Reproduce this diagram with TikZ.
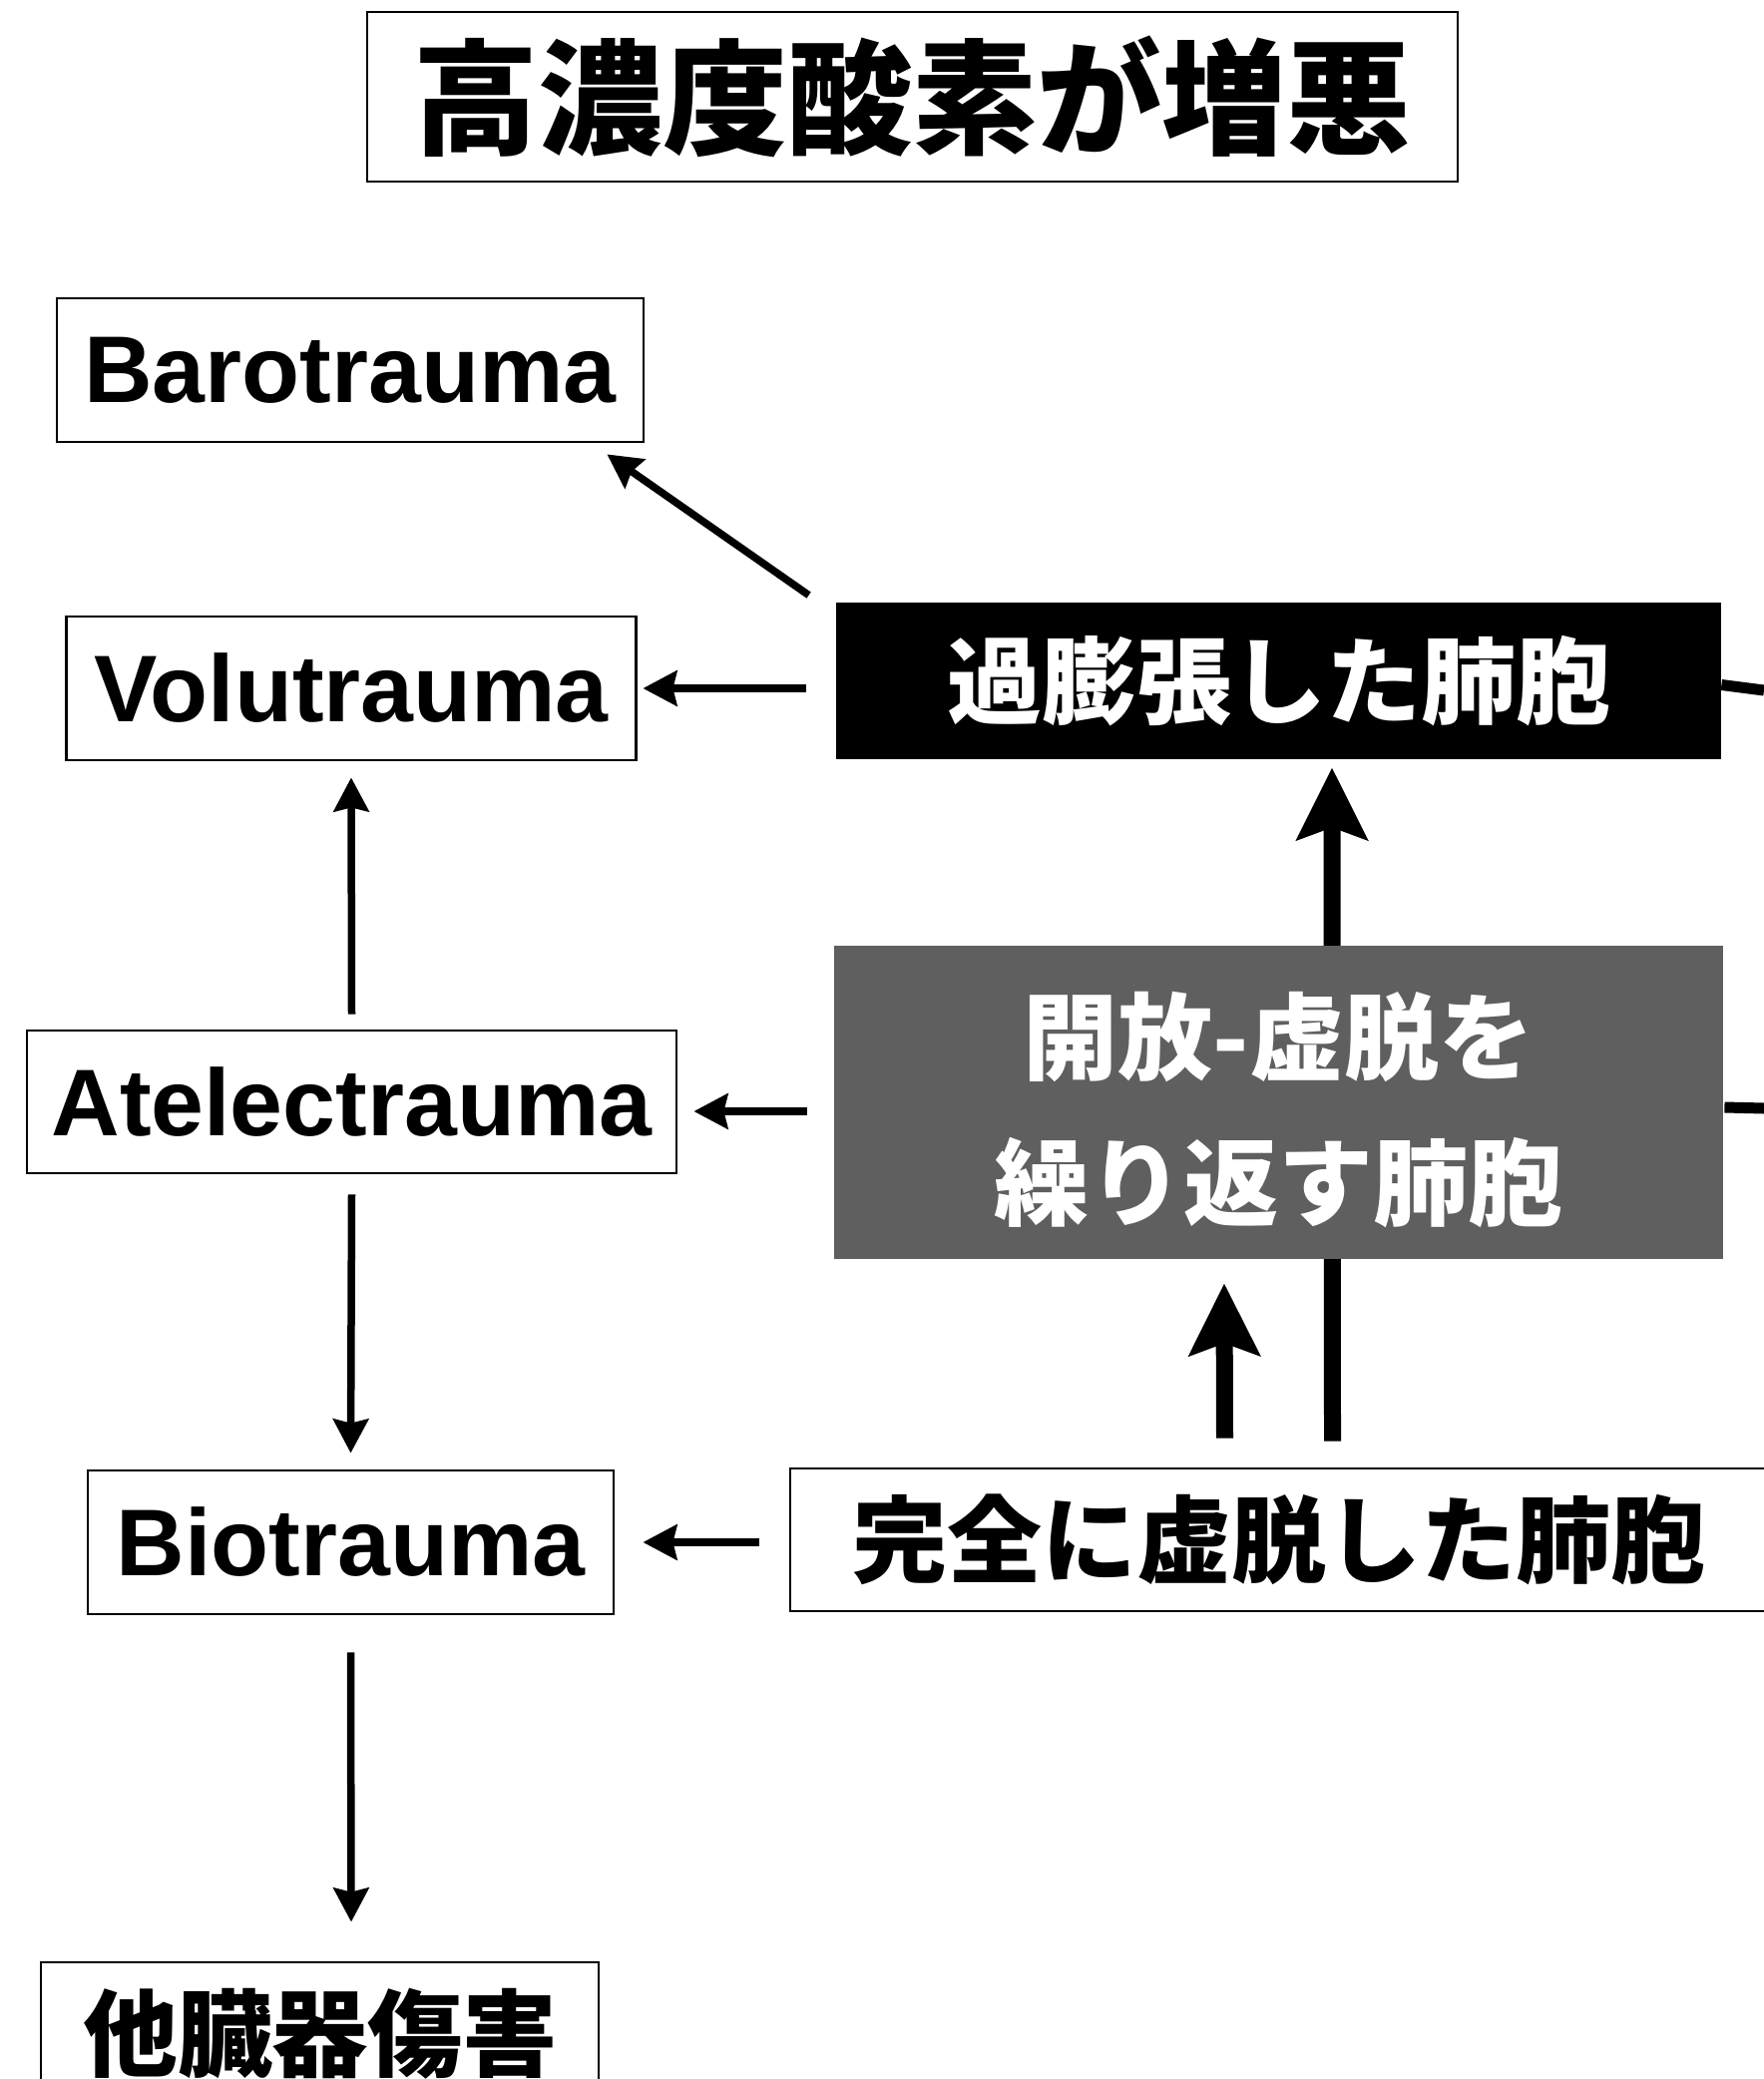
\documentclass[tikz,border=0pt]{standalone}
\usepackage{fontspec}
\setmainfont{Liberation Sans}
\newfontfamily\jpfont{Noto Sans CJK JP}
\usetikzlibrary{arrows.meta,backgrounds}
\definecolor{midgray}{HTML}{5F5F5F}
\tikzset{
  box/.style={draw=black,line width=2.8pt,inner sep=0pt,align=center,font=\fontsize{95}{146}\selectfont\bfseries},
  jpbox/.style={box,font=\fontsize{95}{146}\selectfont\jpfont\bfseries},
  thinarrow/.style={line width=7.5pt,-{Stealth[length=34pt,width=35pt,inset=4pt]}},
  thickarrow/.style={line width=17pt,-{Stealth[length=72pt,width=70pt,inset=12pt]}},
  thickline/.style={line width=11pt},
}
\begin{document}
\begin{tikzpicture}[x=1pt,y=-1pt]
\clip (0,0) rectangle (1768,2084);

\node[jpbox,minimum width=1093pt,minimum height=170pt,font=\fontsize{125}{140}\selectfont\jpfont\bfseries] (title) at (914.5,97) {高濃度酸素が増悪};

\node[box,minimum width=588pt,minimum height=144pt] (baro) at (351,371) {Barotrauma};
\node[box,minimum width=571pt,minimum height=144pt] (volu) at (352,690) {Volutrauma};
\node[box,minimum width=651pt,minimum height=143pt] (atel) at (352.5,1104.5) {Atelectrauma};
\node[box,minimum width=527pt,minimum height=144pt] (bio) at (351.5,1546) {Biotrauma};
\node[jpbox,minimum width=559pt,minimum height=144pt] (organ) at (320.5,2039) {他臓器傷害};

\node[jpbox,fill=black,text=white,minimum width=885pt,minimum height=155pt] (over) at (1281.5,682.5) {過膨張した肺胞};
\node[jpbox,draw=none,fill=midgray,minimum width=891pt,minimum height=314pt] (rep) at (1281.5,1105) {};
\node[jpbox,draw=none,text=white] (reptext) at ([shift={(0,8)}]rep.center) {開放-虚脱を\\繰り返す肺胞};
\node[jpbox,minimum width=980pt,minimum height=143pt] (coll) at (1282,1543.5) {完全に虚脱した肺胞};

\coordinate (overout) at (1768,692);
\coordinate (repout) at (1768,1111);

\begin{scope}[on background layer]
  \fill[white] (0,0) rectangle (1768,2084);
  \draw[thickarrow] ([shift={(53.5,-26)}]coll.north) -- ([shift={(53.5,8)}]over.south);
\end{scope}
\draw[thickarrow] ([shift={(-54.5,-29)}]coll.north) -- ([shift={(-54.5,23)}]rep.south);

\draw[thickline] ([shift={(0,4)}]over.east) -- (overout);
\draw[thickline] ([shift={(0,5)}]rep.east) -- (repout);

\draw[thinarrow] ([shift={(-27,-7)}]over.north west) -- ([shift={(-38,11)}]baro.south east);
\draw[thinarrow] ([shift={(-30,7.5)}]over.west) -- ([shift={(5.5,0)}]volu.east);
\draw[thinarrow] ([shift={(0,-15)}]atel.north) -- ([shift={(0,16)}]volu.south);
\draw[thinarrow] ([shift={(0,20)}]atel.south) -- ([shift={(0,-16)}]bio.north);
\draw[thinarrow] ([shift={(-26,9)}]rep.west) -- ([shift={(16,9.5)}]atel.east);
\draw[thinarrow] ([shift={(-30,2.5)}]coll.west) -- ([shift={(28,0)}]bio.east);
\draw[thinarrow] ([shift={(0,37)}]bio.south) -- ([shift={(31.5,-39)}]organ.north);
\end{tikzpicture}
\end{document}
